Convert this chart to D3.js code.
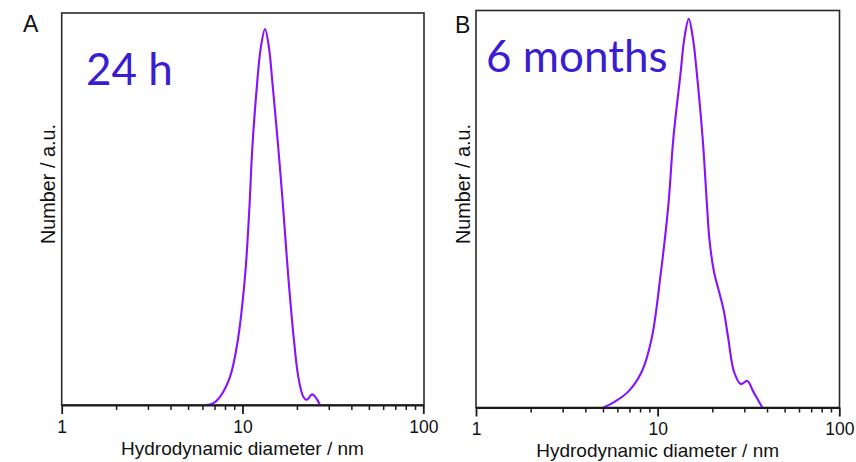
<!DOCTYPE html>
<html>
<head>
<meta charset="utf-8">
<script src="https://cdn.jsdelivr.net/npm/d3@7"></script>
<style>
  html, body { margin: 0; padding: 0; background: #fff; }
  svg { display: block; }
</style>
</head>
<body>
<svg id="chart" width="856" height="462"></svg>
<script>
// ---- Data ----
const panelLabels = ["A", "B"];
const panelTitles = ["24 h", "6 months"];
const xAxisTitle = "Hydrodynamic diameter / nm";
const yAxisTitle = "Number / a.u.";
const majorTicks = [1, 10, 100];
const minorTicks = [2, 3, 4, 5, 6, 7, 8, 9, 20, 30, 40, 50, 60, 70, 80, 90];

// Panel A: 24 h
const diameterA = [6.20, 6.87, 7.51, 8.53, 9.36, 10.32, 10.90, 11.33, 12.07, 12.61, 13.32,
                   14.02, 14.62, 15.78, 16.82, 17.92, 19.34, 20.35, 21.69, 22.65, 24.33, 26.84];
const numberA   = [0.0, 0.4, 2.1, 7.2, 15.7, 32.7, 49.7, 65.5, 82.5, 91.0, 95.9,
                   91.0, 82.5, 65.5, 49.7, 32.7, 15.7, 7.2, 2.1, 1.3, 2.7, 0.0];

// Panel B: 6 months
const diameterB = [5.02, 5.82, 6.89, 8.17, 9.27, 10.43, 11.45, 12.20, 13.39, 14.02, 14.83,
                   15.65, 16.41, 17.70, 18.69, 19.25, 20.42, 22.04, 23.19, 24.48, 26.33,
                   28.66, 31.16, 33.62, 37.68];
const numberB   = [0.0, 1.5, 4.0, 9.0, 17.4, 34.2, 50.9, 67.7, 84.5, 92.9, 97.9,
                   92.9, 84.5, 67.7, 50.9, 42.6, 34.2, 28.3, 24.1, 17.4, 9.0,
                   5.9, 6.7, 4.0, 0.0];

// ---- Layout ----
const panels = [
  { x: diameterA, y: numberA, left: 61.7, right: 423.3, frameRight: 424, top: 13, bottom: 405,
    label: { x: 23, y: 32 }, title: { x: 86, y: 85 }, yTitleX: 55 },
  { x: diameterB, y: numberB, left: 476, right: 839.3, frameRight: 839.5, top: 10.5, bottom: 407.5,
    label: { x: 455, y: 33 }, title: { x: 486, y: 72 }, yTitleX: 470 }
];

const svg = d3.select("#chart");
svg.append("rect").attr("width", 856).attr("height", 462).attr("fill", "#fff");

const lineColor = "#8612ff";
const titleColor = "#3a1cd2";
const axisColor = "#1a1a1a";
const sans = "'Liberation Sans', Arial, sans-serif";

panels.forEach((p, i) => {
  const g = svg.append("g");
  const x = d3.scaleLog().domain([1, 100]).range([p.left, p.right]);
  const y = d3.scaleLinear().domain([0, 100]).range([p.bottom, p.top]);

  // frame
  g.append("rect")
    .attr("x", p.left).attr("y", p.top)
    .attr("width", p.frameRight - p.left).attr("height", p.bottom - p.top)
    .attr("fill", "none").attr("stroke", "#2a2a2a").attr("stroke-width", 1.6);

  // curve
  const pts = p.x.map((d, k) => [d, p.y[k]]);
  g.append("path")
    .datum(pts)
    .attr("fill", "none")
    .attr("stroke", lineColor)
    .attr("stroke-width", 2.1)
    .attr("stroke-linejoin", "round")
    .attr("d", d3.line().x(d => x(d[0])).y(d => Math.min(y(d[1]), p.bottom)).curve(d3.curveCatmullRom.alpha(0.5)));

  // minor ticks
  const minorAxis = d3.axisBottom(x).tickValues(minorTicks).tickSizeInner(5).tickSizeOuter(0).tickFormat("");
  const gm = g.append("g").attr("transform", `translate(0,${p.bottom})`).call(minorAxis);
  gm.select(".domain").remove();
  gm.selectAll(".tick line").attr("stroke", axisColor).attr("stroke-width", 1.5);

  // major ticks + labels
  const majorAxis = d3.axisBottom(x).tickValues(majorTicks).tickSizeInner(9).tickSizeOuter(0)
    .tickPadding(6.5).tickFormat(d3.format("d"));
  const ga = g.append("g").attr("transform", `translate(0,${p.bottom})`).call(majorAxis);
  ga.select(".domain").attr("stroke", axisColor).attr("stroke-width", 2.2);
  ga.selectAll(".tick line").attr("stroke", axisColor).attr("stroke-width", 1.8);
  ga.selectAll(".tick text").attr("fill", "#111").style("font-family", sans).style("font-size", "17.5px");

  // x axis title
  g.append("text")
    .attr("x", (p.left + p.right) / 2).attr("y", p.bottom + 49.5)
    .attr("text-anchor", "middle")
    .style("font-family", sans).style("font-size", "19px").attr("fill", "#111")
    .text(xAxisTitle);

  // y axis title
  g.append("text")
    .attr("transform", `translate(${p.yTitleX},${184}) rotate(-90)`)
    .attr("text-anchor", "middle")
    .style("font-family", sans).style("font-size", "19.8px").attr("fill", "#111")
    .text(yAxisTitle);

  // panel letter
  g.append("text")
    .attr("x", p.label.x).attr("y", p.label.y)
    .style("font-family", sans).style("font-size", "23px").attr("fill", "#111")
    .text(panelLabels[i]);

  // panel title
  g.append("text")
    .attr("x", p.title.x).attr("y", p.title.y)
    .style("font-family", "Lato, 'Open Sans', sans-serif").style("font-size", "44px")
    .attr("fill", titleColor)
    .text(panelTitles[i]);
});
</script>
</body>
</html>
